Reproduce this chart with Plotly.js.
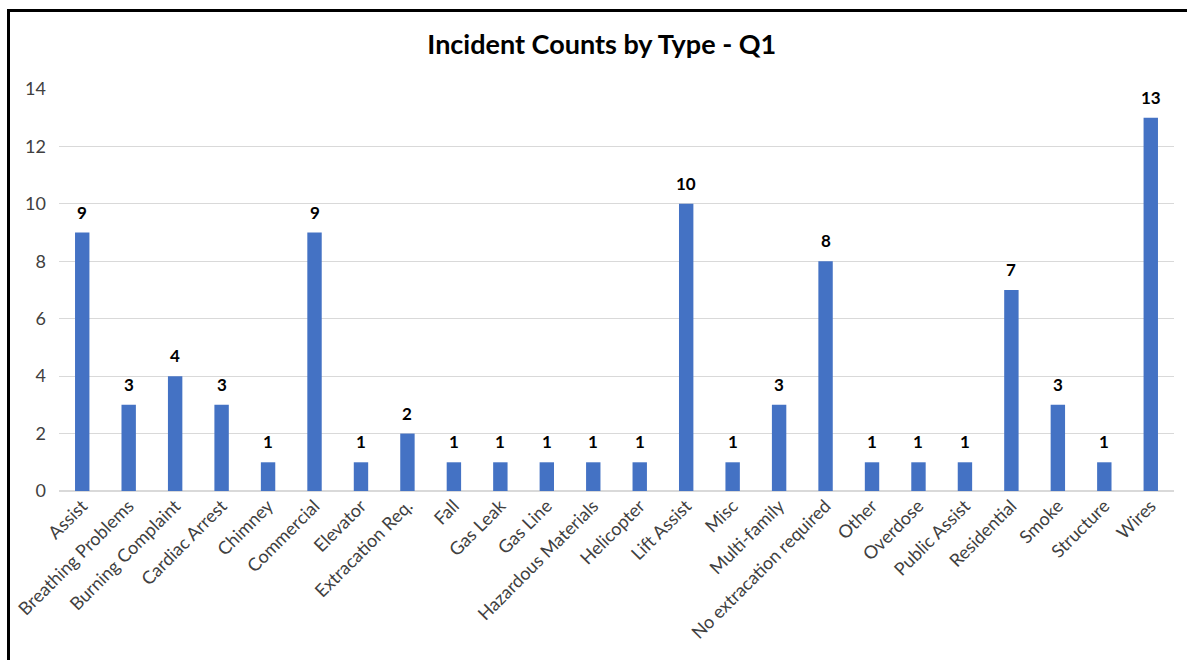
<!DOCTYPE html>
<html><head><meta charset="utf-8">
<script src="https://cdn.plot.ly/plotly-3.0.1.min.js"></script>
<style>
html,body{margin:0;padding:0;background:#fff;overflow:hidden;}
#frame{position:absolute;left:7px;top:9px;width:1180px;height:660px;border-left:3px solid #000;border-top:3px solid #000;box-sizing:border-box;pointer-events:none;z-index:5;}
#chart{position:absolute;left:0;top:0;width:1187px;height:660px;}
</style></head>
<body>
<div id="chart"></div>
<div id="frame"></div>
<script>
const categories = ["Assist","Breathing Problems","Burning Complaint","Cardiac Arrest","Chimney","Commercial","Elevator","Extracation Req.","Fall","Gas Leak","Gas Line","Hazardous Materials","Helicopter","Lift Assist","Misc","Multi-family","No extracation required","Other","Overdose","Public Assist","Residential","Smoke","Structure","Wires"];
const counts = [9,3,4,3,1,9,1,2,1,1,1,1,1,10,1,3,8,1,1,1,7,3,1,13];
const yTicks = [0,2,4,6,8,10,12,14];
const chartTitle = "Incident Counts by Type - Q1";

const font = "Lato, 'Open Sans', 'Liberation Sans', sans-serif";
const labels = categories.map((c, i) => ({
  x: c, y: counts[i], xref: 'x', yref: 'y',
  text: '<b>' + counts[i] + '</b>', showarrow: false,
  yanchor: 'bottom', yshift: 8,
  font: {family: font, size: 17, color: '#000'}
}));
Plotly.newPlot('chart', [{
  type: 'bar',
  x: categories,
  y: counts,
  marker: {color: '#4472C4'},
  hoverinfo: 'x+y'
}], {
  width: 1187, height: 660,
  margin: {l: 59, r: 13, t: 89, b: 169},
  paper_bgcolor: '#fff', plot_bgcolor: '#fff',
  bargap: 0.69,
  title: {text: '<b>' + chartTitle + '</b>', font: {family: font, size: 27, color: '#000'}, x: 0.507, xanchor: 'center', y: 0.932, yanchor: 'middle'},
  xaxis: {tickangle: -45, tickfont: {family: font, size: 18, color: '#404040'}, showline: false, ticks: '', automargin: false},
  yaxis: {range: [0, 14], tickvals: yTicks, tickfont: {family: font, size: 18, color: '#404040'}, gridcolor: '#d9d9d9', gridwidth: 1, zeroline: true, zerolinecolor: '#d9d9d9', zerolinewidth: 1.5, showline: false, ticks: '', ticklabelstandoff: 12, automargin: false},
  annotations: labels,
  showlegend: false
}, {displayModeBar: false, staticPlot: true});
</script>
</body></html>
